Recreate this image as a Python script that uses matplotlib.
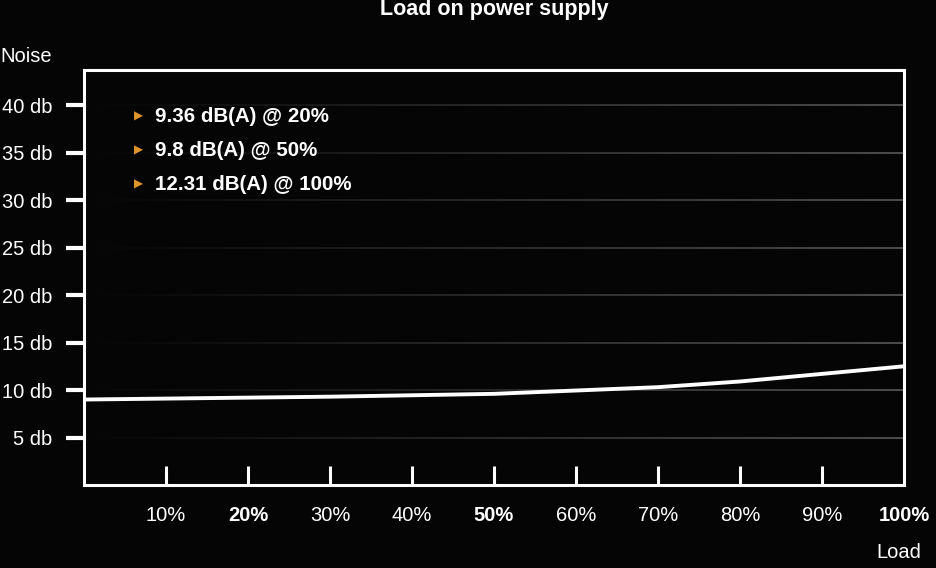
import matplotlib.pyplot as plt
import numpy as np
from matplotlib.collections import LineCollection

plt.rcParams['font.family'] = ['Liberation Sans', 'DejaVu Sans']

# data
load = [0, 10, 20, 30, 40, 50, 60, 70, 80, 90, 100]
noise = [9.0, 9.1, 9.2, 9.3, 9.45, 9.6, 9.95, 10.3, 10.9, 11.7, 12.5]

y_ticks = [5, 10, 15, 20, 25, 30, 35, 40]
y_labels = ['5 db', '10 db', '15 db', '20 db', '25 db', '30 db', '35 db', '40 db']
x_ticks = [10, 20, 30, 40, 50, 60, 70, 80, 90, 100]
x_labels = ['10%', '20%', '30%', '40%', '50%', '60%', '70%', '80%', '90%', '100%']
bold_x = ['20%', '50%', '100%']

notes = ['9.36 dB(A) @ 20%', '9.8 dB(A) @ 50%', '12.31 dB(A) @ 100%']

bg = '#050505'
orange = '#e0942c'

fig = plt.figure(figsize=(9.36, 5.68), dpi=100, facecolor=bg)
ax = fig.add_axes([84 / 936, 83 / 568, 820 / 936, 415 / 568])
ax.set_facecolor(bg)

# faded grid lines (dark at left, grey at right)
xs = np.linspace(0, 100, 60)
for yv in y_ticks:
    segs = [[(xs[i], yv), (xs[i + 1], yv)] for i in range(len(xs) - 1)]
    cols = [(0.32, 0.32, 0.32, a) for a in np.linspace(0.0, 1.0, len(segs))]
    ax.add_collection(LineCollection(segs, colors=cols, linewidths=1.3, zorder=1))

ax.plot(load, noise, color='white', linewidth=2.8, zorder=3, solid_capstyle='butt')

ax.set_xlim(0, 100)
ax.set_ylim(0, 43.7)

for s in ax.spines.values():
    s.set_color('white')
    s.set_linewidth(2.2)

ax.set_yticks(y_ticks)
ax.set_yticklabels(y_labels)
ax.tick_params(axis='y', direction='out', length=13, width=3, color='white',
               labelcolor='white', labelsize=14.5, pad=10)

ax.set_xticks(x_ticks)
ax.set_xticklabels(x_labels)
ax.tick_params(axis='x', direction='in', length=14, width=2.2, color='white',
               labelcolor='white', labelsize=14.5, pad=15)
for lbl in ax.get_xticklabels():
    if lbl.get_text() in bold_x:
        lbl.set_fontweight('bold')
# no tick drawn at the right spine
ax.xaxis.get_major_ticks()[-1].tick1line.set_visible(False)

fig.text(494 / 936, 1 - 9 / 568, 'Load on power supply', color='white', fontsize=15.5,
         fontweight='bold', ha='center', va='center')

fig.text(0.0, 1 - 57 / 568, 'Noise', color='white', fontsize=14.5, va='center', ha='left')
fig.text(921 / 936, 1 - 553 / 568, 'Load', color='white', fontsize=14.5, va='center', ha='right')

for i, t in enumerate(notes):
    yy = 1 - (116 + 34 * i) / 568
    fig.text(134 / 936, yy, '\u25B6', color=orange, fontsize=8.5, va='center', ha='left',
             family=['DejaVu Sans'])
    fig.text(155 / 936, yy, t, color='white', fontsize=14.8, fontweight='bold',
             va='center', ha='left')

fig.savefig('out.png', dpi=100, facecolor=bg)
